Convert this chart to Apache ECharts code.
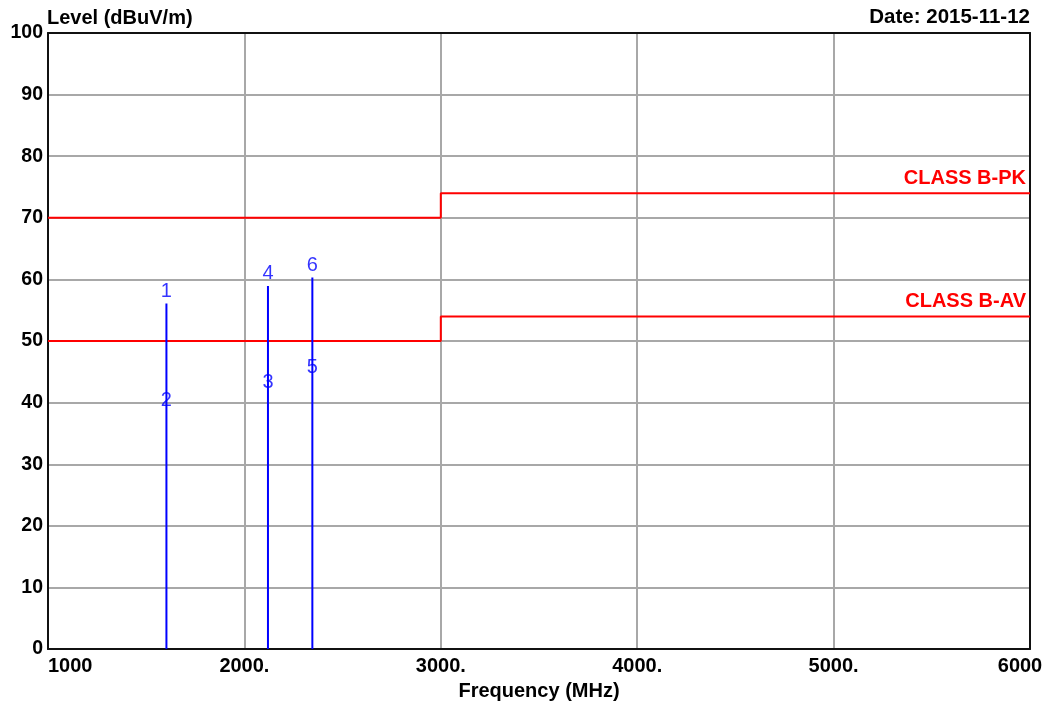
<!DOCTYPE html>
<html>
<head>
<meta charset="utf-8">
<script src="https://cdn.jsdelivr.net/npm/echarts@6/dist/echarts.min.js"></script>
<style>
html,body{margin:0;padding:0;background:#fff;}
#chart{width:1052px;height:706px;}
</style>
</head>
<body>
<div id="chart"></div>
<script>
// ---- data ----
var xTickValues = [1000, 2000, 3000, 4000, 5000, 6000];
var xTickLabels = ['1000', '2000.', '3000.', '4000.', '5000.', '6000'];
var pkLimitFreq = [1000, 3000, 3000, 6000];
var pkLimitLevel = [70, 70, 74, 74];
var avLimitFreq = [1000, 3000, 3000, 6000];
var avLimitLevel = [50, 50, 54, 54];
var markerFreq = [1603, 2120, 2346];
var peakLevel = [56.1, 58.95, 60.3];
var peakNames = ['1', '4', '6'];
var avgLevel = [38.35, 41.3, 43.7];
var avgNames = ['2', '3', '5'];

var chart = echarts.init(document.getElementById('chart'), null, {renderer: 'canvas'});
var FONT = 'Liberation Sans, Arial, sans-serif';
var FRAME = {show: true, onZero: false, lineStyle: {color: '#111', width: 2}};

function zip(a, b, names) {
  return a.map(function (v, i) { return names ? {value: [v, b[i]], name: names[i]} : [v, b[i]]; });
}

var option = {
  animation: false,
  backgroundColor: '#ffffff',
  grid: {left: 48, right: 22, top: 33, bottom: 55, containLabel: false},
  xAxis: [{
    type: 'value', min: 1000, max: 6000, interval: 1000, position: 'bottom',
    name: 'Frequency (MHz)', nameLocation: 'middle', nameGap: 30,
    nameTextStyle: {fontFamily: FONT, fontWeight: 'bold', fontSize: 20, color: '#000'},
    axisLine: FRAME, axisTick: {show: false},
    splitLine: {show: true, lineStyle: {color: '#a8a8a8', width: 2}},
    axisLabel: {
      fontFamily: FONT, fontWeight: 'bold', fontSize: 20, color: '#000', margin: 7,
      alignMinLabel: 'left',
      formatter: function (v) {
        var i = xTickValues.indexOf(v);
        var s = i >= 0 ? xTickLabels[i] : '';
        if (v === 6000) return '{r|' + s + '}';
        return s;
      },
      rich: {r: {fontFamily: FONT, fontWeight: 'bold', fontSize: 20, color: '#000', padding: [0, 20, 0, 0]}}
    }
  }, {
    type: 'value', min: 1000, max: 6000, interval: 1000, position: 'top',
    axisLine: FRAME, axisTick: {show: false}, axisLabel: {show: false}, splitLine: {show: false}
  }],
  yAxis: [{
    type: 'value', min: 0, max: 100, interval: 10, position: 'left',
    axisLine: FRAME, axisTick: {show: false},
    splitLine: {show: true, lineStyle: {color: '#a8a8a8', width: 2}},
    axisLabel: {fontFamily: FONT, fontWeight: 'bold', fontSize: 19.5, color: '#000', margin: 5}
  }, {
    type: 'value', min: 0, max: 100, interval: 10, position: 'right',
    axisLine: FRAME, axisTick: {show: false}, axisLabel: {show: false}, splitLine: {show: false}
  }],
  graphic: [
    {type: 'text', left: 47, top: 8, style: {text: 'Level (dBuV/m)', font: 'bold 20px ' + FONT, fill: '#000'}},
    {type: 'text', right: 22, top: 7, style: {text: 'Date: 2015-11-12', font: 'bold 20.5px ' + FONT, fill: '#000'}}
  ],
  series: [
    {
      type: 'line', data: zip(pkLimitFreq, pkLimitLevel), symbol: 'none',
      lineStyle: {color: '#ff0000', width: 2}, z: 3
    },
    {
      type: 'line', data: zip(avLimitFreq, avLimitLevel), symbol: 'none',
      lineStyle: {color: '#ff0000', width: 2}, z: 3
    },
    {
      type: 'custom', z: 4,
      data: zip(markerFreq, peakLevel),
      renderItem: function (params, api) {
        var p0 = api.coord([api.value(0), 0]);
        var p1 = api.coord([api.value(0), api.value(1)]);
        return {type: 'line', shape: {x1: p0[0], y1: p0[1], x2: p1[0], y2: p1[1]},
          style: {stroke: '#0000ff', lineWidth: 2}};
      }
    },
    {
      type: 'scatter', symbolSize: 0, z: 5,
      data: zip(markerFreq, peakLevel, peakNames),
      label: {show: true, position: 'top', distance: 2, formatter: '{b}',
        fontFamily: FONT, fontSize: 20, color: '#0000ff'}
    },
    {
      type: 'scatter', symbolSize: 0, z: 5,
      data: zip(markerFreq, avgLevel, avgNames),
      label: {show: true, position: 'top', distance: 2, formatter: '{b}',
        fontFamily: FONT, fontSize: 20, color: '#0000ff'}
    }
  ]
};
chart.setOption(option);

// limit labels placed through the axis scale
var pkPos = chart.convertToPixel({xAxisIndex: 0, yAxisIndex: 0}, [6000, pkLimitLevel[3]]);
var avPos = chart.convertToPixel({xAxisIndex: 0, yAxisIndex: 0}, [6000, avLimitLevel[3]]);
option.graphic.push(
  {type: 'text', x: pkPos[0] - 4, y: pkPos[1] - 5, style: {text: 'CLASS B-PK', font: 'bold 20px ' + FONT, fill: '#ff0000', align: 'right', verticalAlign: 'bottom'}},
  {type: 'text', x: avPos[0] - 4, y: avPos[1] - 5, style: {text: 'CLASS B-AV', font: 'bold 20px ' + FONT, fill: '#ff0000', align: 'right', verticalAlign: 'bottom'}}
);
chart.setOption(option, true);
</script>
</body>
</html>
